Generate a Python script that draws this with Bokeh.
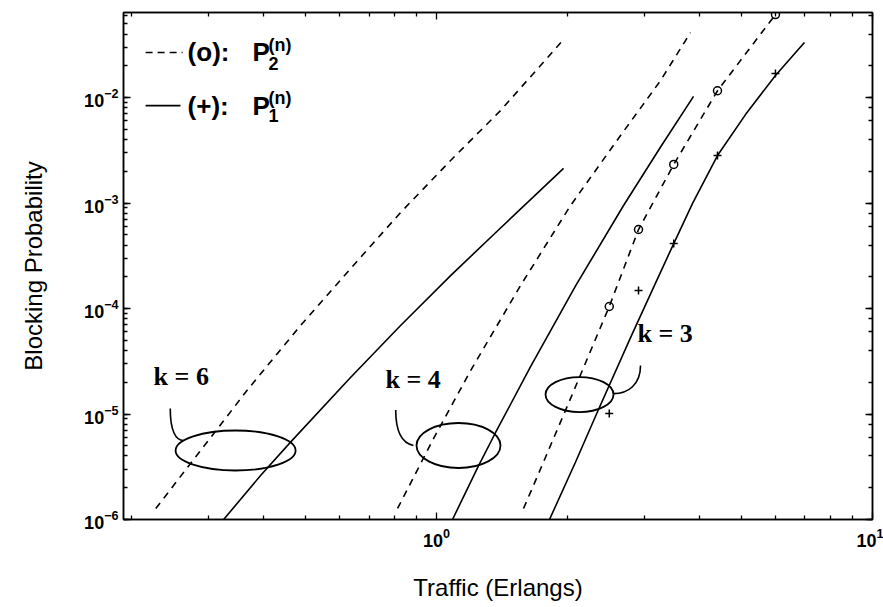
from bokeh.plotting import figure
from bokeh.models import Range1d, LogAxis, Label, FixedTicker, LogTicker
from bokeh.embed import file_html
from bokeh.resources import INLINE

# Blocking probability vs. offered traffic, for cluster sizes k = 6, 4, 3.
# P2 (dashed) and P1 (solid) analytical curves.
k6_p2_x = [0.227, 0.2876, 0.3705, 0.4876, 0.6349, 0.827, 1.077, 1.402, 1.956]
k6_p2_y = [1.272e-6, 4.51e-6, 1.746e-5, 6.90e-5, 2.39e-4, 8.13e-4, 2.53e-3, 7.53e-3, 3.55e-2]

k6_p1_x = [0.3248, 0.3948, 0.4625, 0.6349, 0.827, 1.077, 1.402, 1.956]
k6_p1_y = [1.0e-6, 2.61e-6, 5.41e-6, 2.22e-5, 6.90e-5, 2.05e-4, 5.80e-4, 2.13e-3]

k4_p2_x = [0.814, 0.979, 1.197, 1.558, 2.029, 2.642, 3.265, 3.824]
k4_p2_y = [1.272e-6, 5.61e-6, 2.58e-5, 1.65e-4, 9.46e-4, 4.36e-3, 1.45e-2, 4.13e-2]

k4_p1_x = [1.088, 1.248, 1.366, 1.643, 2.084, 2.685, 3.265, 3.886]
k4_p1_y = [1.0e-6, 3.22e-6, 6.68e-6, 2.81e-5, 1.64e-4, 9.47e-4, 3.40e-3, 1.025e-2]

k3_p2_x = [1.583, 1.661, 2.029, 2.49, 2.906, 3.50, 4.41, 5.99]
k3_p2_y = [1.272e-6, 2.01e-6, 1.40e-5, 1.045e-4, 5.61e-4, 2.32e-3, 1.16e-2, 6.12e-2]

k3_p1_x = [1.816, 2.084, 2.340, 2.786, 3.129, 3.50, 3.866, 4.41, 5.113, 5.99, 6.98]
k3_p1_y = [1.0e-6, 3.51e-6, 1.05e-5, 5.29e-5, 1.51e-4, 4.13e-4, 9.92e-4, 2.82e-3, 6.89e-3, 1.62e-2, 3.32e-2]

# Simulated points for k = 3: (o) for P2, (+) for P1
sim_x = [2.49, 2.906, 3.50, 4.41, 5.99]
sim_p2 = [1.045e-4, 5.61e-4, 2.32e-3, 1.16e-2, 6.12e-2]
sim_p1 = [1.01e-5, 1.48e-4, 4.13e-4, 2.82e-3, 1.69e-2]

FONT = "Liberation Sans"

x_ticks = FixedTicker(ticks=[1, 10],
                      minor_ticks=[0.2, 0.3, 0.4, 0.5, 0.6, 0.7, 0.8, 0.9,
                                   2, 3, 4, 5, 6, 7, 8, 9])

p = figure(width=883, height=607, x_axis_type="log", y_axis_type="log",
           x_range=Range1d(0.1914, 10), y_range=Range1d(1e-6, 0.064),
           output_backend="svg", toolbar_location=None,
           min_border_left=123, min_border_right=11,
           min_border_top=12, min_border_bottom=88,
           x_axis_label="Traffic (Erlangs)", y_axis_label="Blocking Probability")
p.grid.visible = False
p.outline_line_color = "black"
p.outline_line_width = 1.5
p.background_fill_color = "white"
p.border_fill_color = "white"
p.xaxis[0].ticker = x_ticks

for ax in (p.xaxis[0], p.yaxis[0]):
    ax.axis_line_width = 1.5
    ax.major_tick_in = 7
    ax.major_tick_out = 0
    ax.minor_tick_in = 4
    ax.minor_tick_out = 0
    ax.major_tick_line_width = 1.3
    ax.minor_tick_line_width = 1.3
    ax.major_label_text_font = FONT
    ax.major_label_text_font_style = "bold"
    ax.major_label_text_font_size = "18px"
    ax.major_label_text_color = "black"
    ax.axis_label_text_font = FONT
    ax.axis_label_text_font_style = "normal"
    ax.axis_label_text_font_size = "24px"
    ax.axis_label_text_color = "black"

p.yaxis[0].axis_label_standoff = 34
p.yaxis[0].major_label_standoff = 5
p.xaxis[0].axis_label_standoff = 24
p.xaxis[0].major_label_standoff = 8

# mirrored tick marks on the right and top edges
for side, tk in (("right", LogTicker()), ("above", x_ticks)):
    ax = LogAxis(ticker=tk, major_label_text_font_size="1px", major_label_text_alpha=0,
                 major_tick_in=7, major_tick_out=0, minor_tick_in=4, minor_tick_out=0,
                 axis_line_width=1.5, major_tick_line_width=1.3,
                 minor_tick_line_width=1.3, major_label_standoff=0)
    p.add_layout(ax, side)

LW = 1.6
DASH = "7 6"
p.line(k6_p2_x, k6_p2_y, line_color="black", line_width=LW, line_dash=DASH)
p.line(k6_p1_x, k6_p1_y, line_color="black", line_width=LW)
p.line(k4_p2_x, k4_p2_y, line_color="black", line_width=LW, line_dash=DASH)
p.line(k4_p1_x, k4_p1_y, line_color="black", line_width=LW)
p.line(k3_p2_x, k3_p2_y, line_color="black", line_width=LW, line_dash=DASH)
p.line(k3_p1_x, k3_p1_y, line_color="black", line_width=LW)

p.scatter(sim_x, sim_p2, marker="circle", size=8, fill_color=None,
          line_color="black", line_width=1.5)
p.scatter(sim_x, sim_p1, marker="cross", size=8, line_color="black", line_width=1.5)

# ellipses grouping the curve pairs
p.ellipse(x=[0.346, 1.123, 2.128], y=[4.51e-6, 5.03e-6, 1.53e-5],
          width=[120, 84, 68], height=[40, 45, 35],
          width_units="screen", height_units="screen",
          fill_color=None, line_color="black", line_width=1.8)

# curved leaders from the labels down to the ellipses
p.bezier(x0=[0.245, 0.806, 2.937], y0=[1.13e-5, 1.09e-5, 2.88e-5],
         x1=[0.263, 0.885, 2.547], y1=[5.61e-6, 5.03e-6, 1.56e-5],
         cx0=[0.245, 0.806, 2.937], cy0=[7.0e-6, 7.0e-6, 1.9e-5],
         cx1=[0.252, 0.83, 2.75], cy1=[5.6e-6, 5.3e-6, 1.56e-5],
         line_color="black", line_width=1.6)

for txt, x, y in (("k = 6", 0.2244, 1.67e-5), ("k = 4", 0.764, 1.56e-5), ("k = 3", 2.89, 4.18e-5)):
    p.add_layout(Label(x=x, y=y, text=txt, text_font="Liberation Serif",
                       text_font_style="bold", text_font_size="26px",
                       text_color="black", text_baseline="bottom"))

# legend drawn by hand so the P symbols can carry indices
p.line([0.2151, 0.2615], [0.02673, 0.02673], line_color="black", line_width=LW, line_dash="7 5")
p.line([0.2151, 0.2586], [8.39e-3, 8.39e-3], line_color="black", line_width=LW)
for tag, sub, ym, ysup, ysub in (("(o):", "2", 0.02673, 0.0318, 0.0210),
                                 ("(+):", "1", 8.39e-3, 1.0e-2, 6.74e-3)):
    p.add_layout(Label(x=0.2685, y=ym, text=tag, text_font=FONT, text_font_style="bold",
                       text_font_size="26px", text_color="black", text_baseline="middle"))
    p.add_layout(Label(x=0.3784, y=ym, text="P", text_font=FONT, text_font_style="bold",
                       text_font_size="26px", text_color="black", text_baseline="middle"))
    p.add_layout(Label(x=0.4118, y=ysup, text="(n)", text_font=FONT, text_font_style="bold",
                       text_font_size="18px", text_color="black", text_baseline="middle"))
    p.add_layout(Label(x=0.4118, y=ysub, text=sub, text_font=FONT, text_font_style="bold",
                       text_font_size="18px", text_color="black", text_baseline="middle"))

open("out.html", "w").write(file_html(p, INLINE))
